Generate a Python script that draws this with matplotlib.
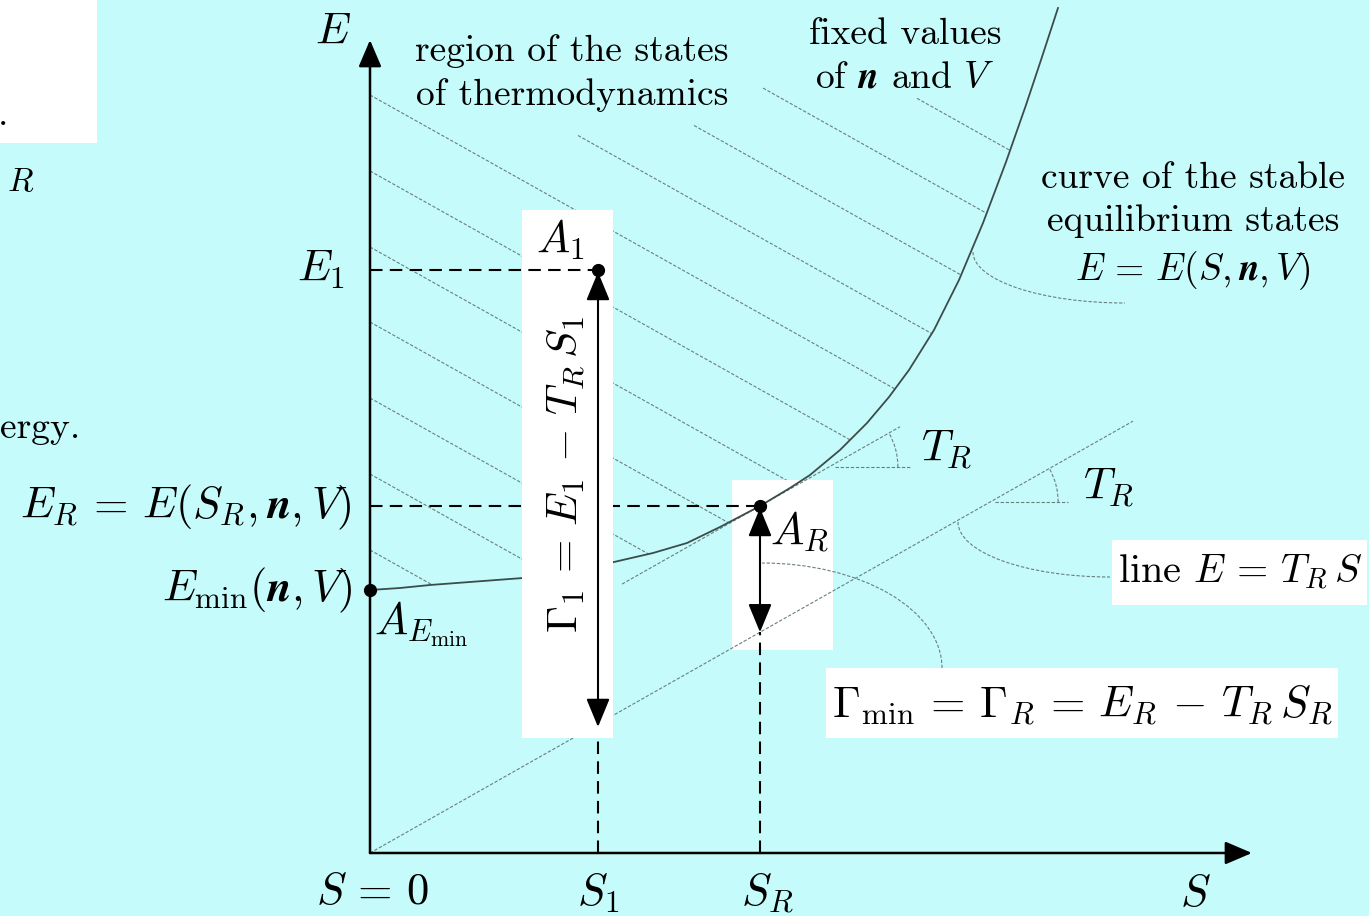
import numpy as np
import matplotlib.pyplot as plt
from matplotlib.patches import Rectangle, Arc, FancyArrowPatch

plt.rcParams['mathtext.fontset'] = 'cm'
plt.rcParams['font.family'] = 'serif'
plt.rcParams['font.serif'] = ['cmr10']
plt.rcParams['axes.unicode_minus'] = False

# curve of the stable equilibrium states E(S) at fixed n, V (units)
curve_S = [0, 30, 60, 153, 244, 283, 317, 350, 390, 420, 440, 470, 497, 519, 539, 564, 589, 613, 636, 656, 671, 688]
curve_E = [263, 265, 268, 275, 291, 300, 310, 326, 347, 365, 378, 403, 430, 456, 483, 523, 573, 630, 691, 748, 793, 845]

S1, E1 = 228, 583        # state A1
SR, ER = 390, 347        # state A_R
E_min = 263              # A_Emin
T_R = 0.566              # slope of line E = T_R S
S_line_end = 763
S_tan = [252, 530]       # range of the tangent at A_R

# hatching of the region of thermodynamic states
hatch_E0 = [303, 379, 455, 531, 606, 682, 758, 834, 909, 985, 1061]
hatch_S0 = [0, 0, 0, 0, 0, 0, 0, 208, 324, 393, 547]
hatch_slope = 0.56

bg = '#c6fbfb'
grey = '#6a7e7e'
fine = (0, (3, 1.6))

fig = plt.figure(figsize=(13.69, 9.16), dpi=100, facecolor=bg)
ax = fig.add_axes([0, 0, 1, 1])
ax.set_xlim(-370, 999)
ax.set_ylim(-63, 853)
ax.set_facecolor(bg)
ax.axis('off')

# hatch lines, clipped at the curve
ss = np.linspace(0, curve_S[-1], 3000)
ce = np.interp(ss, curve_S, curve_E)
for e0, s0 in zip(hatch_E0, hatch_S0):
    le = e0 - hatch_slope * ss
    ok = (ss >= s0) & (le >= ce)
    if ok.any():
        s_end = ss[ok].max()
        ax.plot([s0, s_end], [e0 - hatch_slope * s0, e0 - hatch_slope * s_end],
                color=grey, lw=0.8, ls=fine, zorder=1)

# white boxes
ax.add_patch(Rectangle((-370, 710), 97, 160, fc='white', ec='none', zorder=1.2))
ax.add_patch(Rectangle((362, 203), 101, 170, fc='white', ec='none', zorder=1.5))
ax.add_patch(Rectangle((742, 248), 255, 65, fc='white', ec='none', zorder=1.5))
ax.add_patch(Rectangle((456, 115), 512, 70, fc='white', ec='none', zorder=1.5))

# line E = T_R S and the tangent at A_R
ax.plot([0, S_line_end], [0, T_R * S_line_end], color=grey, lw=0.8, ls=fine, zorder=2)
ax.plot(S_tan, [ER + T_R * (s - SR) for s in S_tan], color=grey, lw=0.8, ls=fine, zorder=2)

# angle marks
ang = np.degrees(np.arctan(T_R))
c1 = SR + (386 - ER) / T_R
ax.plot([c1 + 6, c1 + 82], [386, 386], color=grey, lw=0.8, ls=fine, zorder=2)
ax.add_patch(Arc((c1, 386), 138, 138, theta1=0, theta2=ang, color=grey, lw=0.8, ls=fine, zorder=2))
c2 = 351 / T_R
ax.plot([c2 + 5, c2 + 78], [351, 351], color=grey, lw=0.8, ls=fine, zorder=2)
ax.add_patch(Arc((c2, 351), 136, 136, theta1=0, theta2=ang, color=grey, lw=0.8, ls=fine, zorder=2))

# callouts
ax.add_patch(Arc((755, 601), 304, 102, theta1=180, theta2=270, color=grey, lw=0.8, ls=fine, zorder=2))
ax.add_patch(Arc((740, 331), 304, 110, theta1=180, theta2=270, color=grey, lw=0.8, ls=fine, zorder=2))
ax.add_patch(Arc((392, 185), 360, 210, theta1=0, theta2=90, color=grey, lw=0.8, ls=fine, zorder=2))

# dashed guides
dash = (0, (6, 3.5))
ax.plot([0, SR], [ER, ER], color='black', lw=1.5, ls=dash, zorder=2.2)
ax.plot([S1, S1], [0, T_R * S1], color='black', lw=1.5, ls=dash, zorder=2.2)
ax.plot([SR, SR], [0, T_R * SR], color='black', lw=1.5, ls=dash, zorder=2.2)

# equilibrium curve
ax.plot(curve_S, curve_E, color='#3c4c4c', lw=1.3, zorder=2.5)

# Gamma_1 box (hides lines behind it)
ax.add_patch(Rectangle((152, 115), 91, 528, fc='white', ec='none', zorder=3))
ax.plot([0, S1], [E1, E1], color='black', lw=1.5, ls=dash, zorder=3.2)

# axes
ax_kw = dict(arrowstyle='-|>,head_length=0.75,head_width=0.32', mutation_scale=22,
             color='black', lw=1.8, shrinkA=0, shrinkB=0, zorder=4)
ax.add_patch(FancyArrowPatch((0, 0), (0, 813), **ax_kw))
ax.add_patch(FancyArrowPatch((0, 0), (882, 0), **ax_kw))

dbl = dict(arrowstyle='<|-|>,head_length=0.8,head_width=0.33', mutation_scale=22,
           color='black', lw=1.5, shrinkA=0, shrinkB=0, zorder=4)
ax.add_patch(FancyArrowPatch((S1, E1 - 2), (S1, T_R * S1 - 3), **dbl))
ax.add_patch(FancyArrowPatch((SR, ER - 2), (SR, T_R * SR), **dbl))

ax.plot([S1, SR, 0], [E1, ER, E_min], 'o', color='black', ms=8.5, zorder=5)

# texts
M = 32
T = 27
ax.text(-37, 820, r'$E$', fontsize=M, ha='center', va='center')
ax.text(202, 780, 'region of the states\nof thermodynamics', fontsize=T, ha='center', va='center', linespacing=1.4)
ax.text(535, 797, 'fixed values\nof $\\boldsymbol{n}$ and $V$', fontsize=T, ha='center', va='center', linespacing=1.4)
ax.text(823, 626, 'curve of the stable\nequilibrium states\n$E \\,=\\, E(S,\\boldsymbol{n},V)$', fontsize=T,
        ha='center', va='center', linespacing=1.36)
ax.text(-25, 583, r'$E_1$', fontsize=M, ha='right', va='center')
ax.text(190, 613, r'$A_1$', fontsize=M, ha='center', va='center')
ax.text(197, 378, r'$\Gamma_1\,=\,E_1\,-\,T_R\,S_1$', fontsize=31, ha='center', va='center', rotation=90, zorder=4)
ax.text(-18, 346, r'$E_R \,=\, E(S_R,\boldsymbol{n},V)$', fontsize=M, ha='right', va='center')
ax.text(-18, 263, r'$E_{\mathrm{min}}(\boldsymbol{n},V)$', fontsize=M, ha='right', va='center')
ax.text(4, 229, r'$A_{E_{\mathrm{min}}}$', fontsize=M, ha='left', va='center')
ax.text(400, 321, r'$A_R$', fontsize=M, ha='left', va='center', zorder=4)
ax.text(577, 403, r'$T_R$', fontsize=M, ha='center', va='center')
ax.text(739, 365, r'$T_R$', fontsize=M, ha='center', va='center')
ax.text(870, 281, 'line $E \\,=\\, T_R\\,S$', fontsize=29, ha='center', va='center', zorder=3)
ax.text(712, 148, r'$\Gamma_{\mathrm{min}} \,=\, \Gamma_R \,=\, E_R \,-\, T_R\,S_R$', fontsize=M,
        ha='center', va='center', zorder=3)
ax.text(2, -40, r'$S \,=\, 0$', fontsize=M, ha='center', va='center')
ax.text(S1, -40, r'$S_1$', fontsize=M, ha='center', va='center')
ax.text(397, -40, r'$S_R$', fontsize=M, ha='center', va='center')
ax.text(825, -42, r'$S$', fontsize=M, ha='center', va='center')

# fragments of slide text visible at the left border
ax.text(-372, 738, '.', fontsize=T, ha='left', va='center', zorder=1.3)
ax.text(-363, 671, r'$R$', fontsize=24, ha='left', va='center')
ax.text(-370, 425, 'ergy.', fontsize=T, ha='left', va='center')

fig.savefig('out.png', dpi=100, facecolor=bg)
